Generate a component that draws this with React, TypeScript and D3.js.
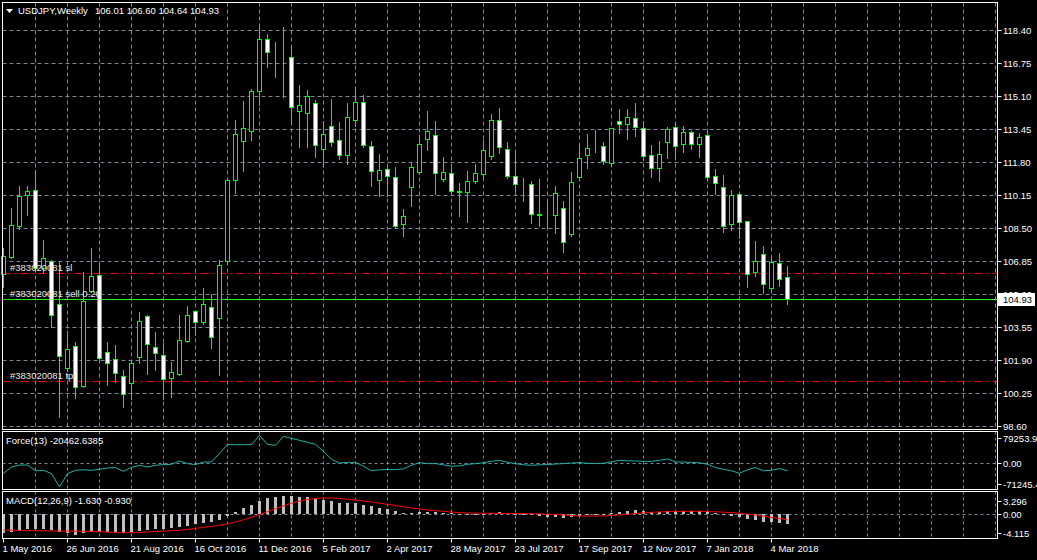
import React from 'react';
import * as d3 from 'd3';

const W = 1037;
const H = 560;

// ---- data (weekly USDJPY, 1 May 2016 .. 19 Mar 2018) ----
const opens = [106.2,107.04,108.57,110.13,110.38,106.5,106.82,104.69,101.5,102.57,
100.57,105.33,106.15,102.29,101.93,101.08,100.73,102.04,104.08,102.53,
102.13,100.97,101.19,102.83,104.33,103.77,104.53,103.97,106.83,110.87,
112.82,113.32,115.37,117.94,117.02,117.02,117.03,114.32,114.22,114.73,
112.43,113.58,112.88,112.12,113.91,114.78,112.58,110.89,111.43,111.03,
108.67,110.53,111.28,112.93,113.13,110.93,111.23,110.34,110.28,110.83,
111.18,112.08,113.88,112.43,111.08,110.63,110.68,109.2,109.33,109.13,
109.48,108.17,111.03,112.13,112.63,112.58,111.73,113.83,113.68,113.98,
113.48,112.13,111.48,112.78,113.53,112.68,113.28,112.68,113.13,111.08,
110.53,108.68,110.18,108.83,106.27,107.18,105.48,106.73,106.01];

const highs = [107.5,109.5,110.6,110.6,111.44,107.9,106.9,106.82,103.35,102.8,
106.29,107.49,106.7,102.8,102.65,101.4,101.9,104.3,104.15,103.33,
102.75,101.78,104.15,104.6,104.4,105.5,105.2,106.93,110.95,113.9,
114.85,115.45,118.63,118.24,117.8,118.6,117.6,115.65,115.4,114.93,
113.85,114.95,113.8,114.75,115.58,115.18,112.88,112.2,111.67,111.58,
109.48,111.78,113.18,114.35,113.85,112.08,111.68,110.78,111.38,111.73,
112.93,114.2,114.5,112.83,112.28,111.03,110.88,110.95,109.88,110.63,
109.88,111.33,112.68,113.23,113.43,112.83,113.5,114.45,114.45,114.75,
113.88,112.68,112.88,113.58,113.78,113.63,113.38,113.28,113.38,111.48,
111.18,110.43,110.28,108.88,107.88,107.63,107.03,107.28,106.60];

const lows = [105.5,106.95,108.4,109.1,106.3,106.25,103.5,99.0,101.3,99.93,
100.5,105.25,101.9,100.6,100.76,99.5,99.9,101.7,101.13,101.36,
99.9,100.0,101.1,102.77,103.12,103.67,102.45,101.12,106.65,110.22,
111.3,112.87,114.6,116.52,116.0,115.0,113.67,112.52,112.52,112.02,
111.57,112.57,111.9,111.68,113.55,112.52,110.57,110.07,110.07,108.47,
108.07,109.57,111.18,112.37,110.15,110.83,110.23,109.07,108.77,110.73,
110.97,111.9,112.23,110.97,110.32,109.82,108.72,108.57,108.57,108.22,
107.27,108.07,110.93,111.47,112.27,111.68,111.58,113.23,112.93,113.08,
111.88,111.02,110.83,111.98,111.93,112.28,112.43,112.02,110.88,110.18,
108.27,108.38,107.98,105.52,106.07,105.23,105.28,105.57,104.64];

const closes = [107.07,108.64,110.1,110.33,106.5,107.0,104.11,102.07,102.43,100.52,
104.85,106.1,101.97,101.74,101.23,100.18,101.75,103.83,102.68,102.23,
100.92,101.29,102.89,104.13,103.77,104.68,103.02,106.63,110.9,113.18,
113.48,115.35,117.94,117.32,117.0,117.0,114.53,114.64,115.08,112.62,
113.18,112.78,112.13,114.03,114.78,112.63,111.33,111.38,111.08,108.57,
109.08,111.53,112.68,113.33,111.23,111.28,110.33,110.30,110.83,111.23,
112.38,113.88,112.53,111.08,110.68,110.63,109.18,109.13,109.33,110.23,
107.77,110.78,111.98,112.48,112.63,111.83,113.48,113.68,114.03,113.53,
112.08,111.48,112.18,113.43,112.58,113.28,112.68,113.03,111.03,110.73,
108.58,110.13,108.78,106.18,106.83,105.68,106.78,105.93,104.93];

const forceVals = [-27400,-10100,-4650,-4650,-20500,-19150,-28200,-64850,-28200,-19150,
-17800,-19150,-16400,-12850,-11750,-21900,-10950,-5470,-10100,-5470,
-3560,-2740,6290,-820,-3560,3560,3560,27360,51160,51160,
51160,51160,76600,51980,49250,73870,68400,62930,57460,51980,
32830,10940,820,2740,2740,-8210,-20520,-17780,-17240,-17240,
-15050,-5470,1920,-820,-820,-4100,-8210,-6840,-2740,-820,
1370,5470,8210,2740,-820,-4100,-5470,-4100,-3560,-1920,
-820,820,1920,0,-820,0,4100,8210,6840,6290,
5470,5470,8210,12310,3560,3560,2740,1370,-2740,-11760,
-16420,-20520,-27360,-17780,-11760,-20520,-19150,-14500,-20462.6385];

const macdVals = [-3.19,-3.02,-2.73,-2.46,-2.53,-2.51,-2.69,-2.97,-3.13,-3.37,
-3.17,-2.88,-2.95,-2.99,-3.03,-3.10,-3.01,-2.73,-2.57,-2.45,
-2.44,-2.37,-2.16,-1.88,-1.66,-1.40,-1.31,-0.94,-0.29,0.40,
0.96,1.53,2.17,2.60,2.88,3.07,2.98,2.89,2.82,2.53,
2.33,2.11,1.86,1.80,1.78,1.58,1.31,1.08,0.86,0.48,
0.22,0.21,0.29,0.40,0.31,0.25,0.12,0.01,-0.03,-0.03,
0.06,0.25,0.29,0.20,0.10,0.02,-0.17,-0.31,-0.41,-0.41,
-0.60,-0.50,-0.32,-0.14,0.02,0.08,0.26,0.41,0.55,0.62,
0.54,0.43,0.40,0.47,0.45,0.48,0.45,0.46,0.29,0.14,
-0.15,-0.26,-0.45,-0.80,-1.01,-1.26,-1.35,-1.47,-1.63];

const signalVals = [-2.62,-2.66,-2.70,-2.72,-2.74,-2.76,-2.78,-2.79,-2.80,-2.82,
-2.84,-2.86,-2.91,-2.96,-3.02,-3.07,-3.07,-3.03,-2.94,-2.86,
-2.81,-2.74,-2.65,-2.52,-2.36,-2.18,-2.03,-1.85,-1.61,-1.29,
-0.92,-0.51,-0.06,0.41,0.89,1.38,1.81,2.16,2.43,2.61,
2.70,2.69,2.61,2.49,2.34,2.19,2.01,1.82,1.63,1.43,
1.22,1.04,0.87,0.71,0.57,0.46,0.35,0.25,0.20,0.17,
0.15,0.15,0.14,0.12,0.11,0.10,0.08,0.05,0.00,-0.05,
-0.14,-0.23,-0.29,-0.32,-0.32,-0.29,-0.22,-0.13,-0.03,0.11,
0.22,0.31,0.37,0.42,0.46,0.48,0.49,0.48,0.44,0.40,
0.33,0.26,0.16,0.02,-0.15,-0.34,-0.54,-0.73,-0.93];

const priceTicks = [118.40,116.75,115.10,113.45,111.80,110.15,108.50,106.85,105.20,103.55,101.90,100.25,98.60];
const dateLabels = ['1 May 2016','26 Jun 2016','21 Aug 2016','16 Oct 2016','11 Dec 2016','5 Feb 2017','2 Apr 2017','28 May 2017','23 Jul 2017','17 Sep 2017','12 Nov 2017','7 Jan 2018','4 Mar 2018'];
const dateLabelIdx = [0,8,16,24,32,40,48,56,64,72,80,88,96];
const symbolTitle = 'USDJPY,Weekly';
const lastBar = [106.01, 106.60, 104.64, 104.93];
const orderLabels = ['#383020081 sl', '#383020081 sell 0.20', '#383020081 tp'];
const orderPrices = [106.24, 104.93, 100.85];
const bidPrice = 104.93;
const forceRange = [-71245.4, 79253.92];
const forceTickText = ['79253.92', '0.00', '-71245.4'];
const macdRange = [-4.115, 3.296];
const macdTickText = ['3.296', '0.00', '-4.115'];
const forceTitle = 'Force(13) -20462.6385';
const macdTitle = 'MACD(12,26,9) -1.630 -0.930';

const FONT = "'Liberation Sans', Arial, sans-serif";
const GRID = '#778899';
const LIME = '#00ff00';

const crisp = (v: number) => Math.floor(v) + 0.5;

export default function App() {
  const n = closes.length;
  const x = d3.scaleLinear().domain([0, n - 1]).range([3.5, 3.5 + 8 * (n - 1)]);
  const yP = d3.scaleLinear().domain([98.6, 118.4]).range([426, 30.5]);
  const yF = d3.scaleLinear().domain(forceRange).range([489.3, 434.4]);
  const yM = d3.scaleLinear().domain(macdRange).range([539, 494.3]);

  // panel frames
  const mainTop = 2.5, mainBot = 429.5, left = 2.5, right = 997.5;
  const fTop = 431.5, fBot = 489.5, mTop = 491.5, mBot = 538.5;

  const gridXs: number[] = [];
  for (let k = 4; x(k) < right - 1; k += 4) gridXs.push(x(k));

  const forceLine = d3.line<number>().x((_, i) => x(i)).y(d => yF(d))(forceVals) || '';
  const signalLine = d3.line<number>().x((_, i) => x(i)).y(d => yM(d))(signalVals) || '';

  const redDash = '8,4,2,4';
  const yBid = crisp(yP(bidPrice));

  return (
    <svg width={W} height={H} style={{ position: 'absolute', left: 0, top: 0, display: 'block' }} fontFamily={FONT}>
      <rect x={0} y={0} width={W} height={H} fill="#000" />

      {/* main grid */}
      {priceTicks.map((p, i) => (
        <line key={'hg' + i} x1={left} x2={right} y1={crisp(yP(p))} y2={crisp(yP(p))} stroke={GRID} strokeDasharray="4,3" />
      ))}
      {gridXs.map((gx, i) => (
        <g key={'vg' + i}>
          <line x1={gx} x2={gx} y1={mainTop} y2={mainBot} stroke={GRID} strokeDasharray="4,3" />
          <line x1={gx} x2={gx} y1={fTop} y2={fBot} stroke={GRID} strokeDasharray="3,3" />
          <line x1={gx} x2={gx} y1={mTop} y2={mBot} stroke={GRID} strokeDasharray="3,3" />
        </g>
      ))}

      {/* order lines */}
      <line x1={left} x2={right} y1={crisp(yP(orderPrices[0]))} y2={crisp(yP(orderPrices[0]))} stroke="#ff0000" strokeDasharray={redDash} />
      <line x1={left} x2={right} y1={crisp(yP(orderPrices[2]))} y2={crisp(yP(orderPrices[2]))} stroke="#ff0000" strokeDasharray={redDash} />
      <line x1={left} x2={right} y1={yBid} y2={yBid} stroke="#c0c0c0" />
      <line x1={left} x2={right} y1={crisp(yP(orderPrices[1]))} y2={crisp(yP(orderPrices[1]))} stroke={LIME} strokeDasharray="14,2" />

      {/* candles */}
      {closes.map((c, i) => {
        const o = opens[i];
        const cx = x(i);
        const top = crisp(yP(Math.max(o, c)));
        const bot = crisp(yP(Math.min(o, c)));
        const bull = c > o;
        return (
          <g key={'c' + i}>
            <line x1={cx} x2={cx} y1={Math.round(yP(highs[i]))} y2={Math.round(yP(lows[i]))} stroke={LIME} />
            <rect x={cx - 2} y={top} width={4} height={Math.max(0, bot - top)} fill={bull ? '#000' : '#fff'} stroke={LIME} />
          </g>
        );
      })}

      {/* order labels */}
      {orderLabels.map((t, i) => (
        <text key={'ol' + i} x={10} y={crisp(yP(orderPrices[i])) - 2.5} fontSize={9.5} fill="#e8e8e8">{t}</text>
      ))}

      {/* header */}
      <path d="M6,9 L13,9 L9.5,13 Z" fill="#fff" />
      <text x={18} y={14} fontSize={9.5} fill="#fff">{symbolTitle}</text>
      <text x={95} y={14} fontSize={9.5} fill="#fff">{lastBar.map(v => v.toFixed(2)).join(' ')}</text>

      {/* force panel */}
      <line x1={left} x2={right} y1={crisp(yF(0))} y2={crisp(yF(0))} stroke={GRID} strokeDasharray="3,3" />
      <path d={forceLine} fill="none" stroke="#20b2aa" strokeWidth={1} />
      <text x={6} y={444} fontSize={9.5} fill="#fff">{forceTitle}</text>

      {/* macd panel */}
      <line x1={left} x2={right} y1={crisp(yM(0))} y2={crisp(yM(0))} stroke={GRID} strokeDasharray="3,3" />
      {macdVals.map((v, i) => {
        const y0 = Math.round(yM(0));
        const y1 = Math.round(yM(v));
        return <rect key={'h' + i} x={x(i) - 1.5} y={Math.min(y0, y1)} width={3} height={Math.max(1, Math.abs(y1 - y0))} fill="#c0c0c0" />;
      })}
      <path d={signalLine} fill="none" stroke="#ff0000" strokeWidth={1} />
      <text x={6} y={504} fontSize={9.5} fill="#fff">{macdTitle}</text>

      {/* frames */}
      <rect x={left} y={mainTop} width={right - left} height={mainBot - mainTop} fill="none" stroke="#fff" />
      <rect x={left} y={fTop} width={right - left} height={fBot - fTop} fill="none" stroke="#fff" />
      <rect x={left} y={mTop} width={right - left} height={mBot - mTop} fill="none" stroke="#fff" />

      {/* right price axis */}
      {priceTicks.map((p, i) => (
        <g key={'pt' + i}>
          <line x1={right} x2={right + 4} y1={crisp(yP(p))} y2={crisp(yP(p))} stroke="#fff" />
          <text x={1003} y={yP(p) + 3.5} fontSize={9.5} fill="#fff">{p.toFixed(2)}</text>
        </g>
      ))}
      <rect x={998} y={yBid - 6.5} width={37} height={13} fill="#fff" />
      <text x={1003} y={yBid + 3.5} fontSize={9.5} fill="#000">{bidPrice.toFixed(2)}</text>

      {/* force axis */}
      {[fTop + 6.5, yF(0) + 0.5, fBot - 5.5].map((ty, i) => (
        <g key={'ft' + i}>
          <line x1={right} x2={right + 4} y1={crisp(ty)} y2={crisp(ty)} stroke="#fff" />
          <text x={1003} y={ty + 3.5} fontSize={9.5} fill="#fff">{forceTickText[i]}</text>
        </g>
      ))}
      {/* macd axis */}
      {[mTop + 9.5, yM(0), mBot - 5]. map((ty, i) => (
        <g key={'mt' + i}>
          <line x1={right} x2={right + 4} y1={crisp(ty)} y2={crisp(ty)} stroke="#fff" />
          <text x={1003} y={ty + 3.5} fontSize={9.5} fill="#fff">{macdTickText[i]}</text>
        </g>
      ))}

      {/* time axis */}
      {dateLabelIdx.map((idx, i) => (
        <g key={'dl' + i}>
          <line x1={x(idx)} x2={x(idx)} y1={mBot} y2={mBot + 4} stroke="#fff" />
          <text x={x(idx) - 1} y={552} fontSize={9.5} fill="#fff">{dateLabels[i]}</text>
        </g>
      ))}
    </svg>
  );
}
